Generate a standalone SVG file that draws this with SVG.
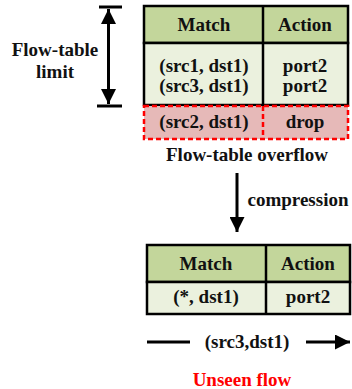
<svg xmlns="http://www.w3.org/2000/svg" width="352" height="389" viewBox="0 0 352 389">
<style>
text{font-family:"Liberation Serif","Times New Roman",serif;font-weight:bold;font-size:19px;fill:#111;text-anchor:middle}
.hdr{fill:#c3d69b;stroke:#000;stroke-width:2.5}
.body{fill:#ebf1de;stroke:#000;stroke-width:2.5}
.ln{stroke:#000;stroke-width:2.5;fill:none}
.dash{fill:#e6b9b8;stroke:#ff0000;stroke-width:2.5;stroke-dasharray:5,3}
.dashl{stroke:#ff0000;stroke-width:2.5;stroke-dasharray:5,3;fill:none}
.red{fill:#ff0000}
</style>
<defs>
<marker id="ah" viewBox="0 0 10 10" refX="10" refY="5" markerWidth="5" markerHeight="5" orient="auto-start-reverse" markerUnits="strokeWidth">
<path d="M0,0 L10,5 L0,10 z" fill="#000"/>
</marker>
</defs>
<g id="limit">
<line class="ln" x1="99" y1="7" x2="122" y2="7" style="stroke-width:3"/>
<line class="ln" x1="97" y1="106" x2="122" y2="106" style="stroke-width:3"/>
<line x1="108.5" y1="9" x2="108.5" y2="104" stroke="#000" stroke-width="3" marker-start="url(#ah)" marker-end="url(#ah)"/>
<text x="55" y="56">Flow-table</text>
<text x="55" y="78">limit</text>
</g>
<g id="table1">
<rect class="hdr" x="144" y="6" width="204" height="37"/>
<rect class="body" x="144" y="43" width="204" height="62"/>
<line class="ln" x1="263" y1="6" x2="263" y2="105"/>
<text x="204" y="31">Match</text>
<text x="305" y="31">Action</text>
<text x="204" y="72">(src1, dst1)</text>
<text x="305" y="72">port2</text>
<text x="204" y="92">(src3, dst1)</text>
<text x="305" y="92">port2</text>
</g>
<g id="overflow">
<rect class="dash" x="144" y="106" width="204" height="33"/>
<line class="dashl" x1="263" y1="106" x2="263" y2="139"/>
<text x="204" y="128">(src2, dst1)</text>
<text x="305" y="128">drop</text>
<text x="247" y="161">Flow-table overflow</text>
</g>
<g id="table2">
<rect class="hdr" x="147" y="245" width="203" height="37"/>
<rect class="body" x="147" y="282" width="203" height="32"/>
<line class="ln" x1="266" y1="245" x2="266" y2="314"/>
<text x="206" y="270">Match</text>
<text x="308" y="270">Action</text>
<text x="206" y="303">(*, dst1)</text>
<text x="308" y="303">port2</text>
</g>
<g id="flow">
<text x="247" y="348">(src3,dst1)</text>
<text x="242" y="386" class="red">Unseen flow</text>
</g>
<g id="connectors">
<line x1="237" y1="173" x2="237" y2="232" stroke="#000" stroke-width="3" marker-end="url(#ah)"/>
<text x="298" y="206">compression</text>
<line x1="147" y1="342" x2="190" y2="342" stroke="#000" stroke-width="3"/>
<line x1="306" y1="342" x2="350" y2="342" stroke="#000" stroke-width="3" marker-end="url(#ah)"/>
</g>
</svg>
